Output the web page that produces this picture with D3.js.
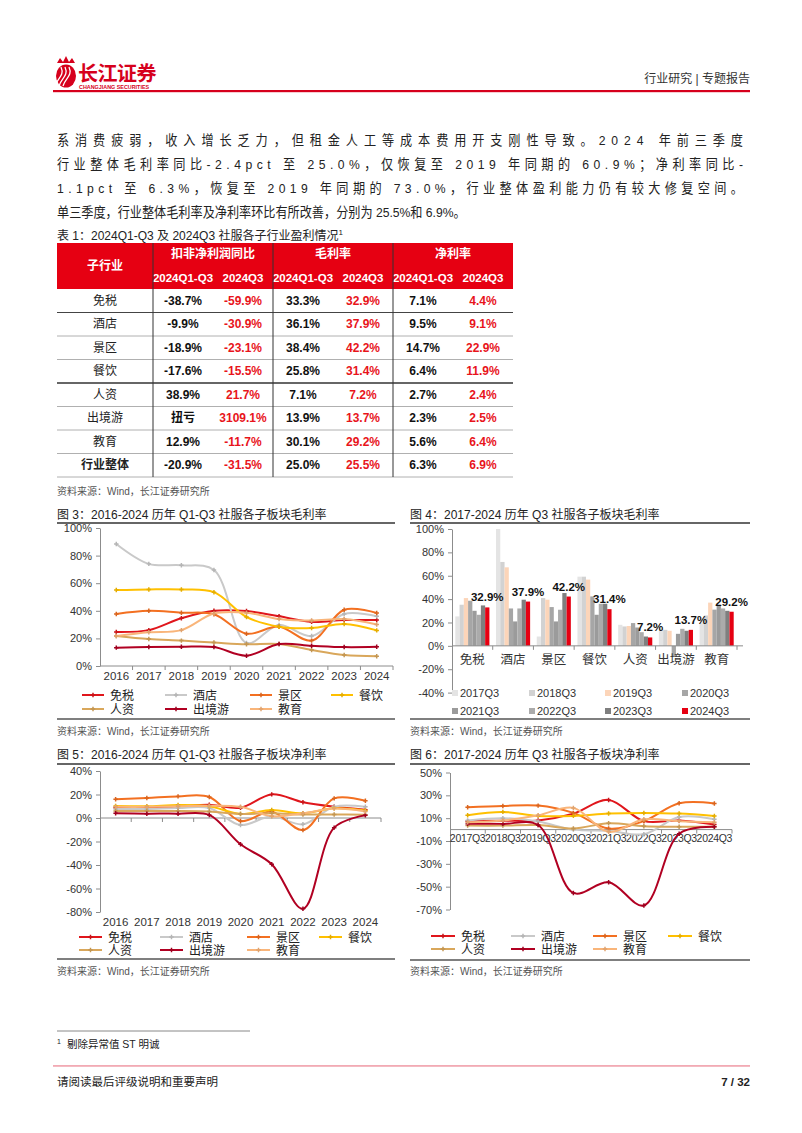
<!DOCTYPE html>
<html><head><meta charset="utf-8">
<script src="https://cdn.jsdelivr.net/npm/d3@7"></script>
<style>body{margin:0;background:#fff}svg{display:block}text{font-family:"Liberation Sans","Noto Sans CJK SC",sans-serif}</style>
</head><body><svg id="page" width="802" height="1133"></svg>
<script>
// ---------------- DATA ----------------
const sectors = ["免税","酒店","景区","餐饮","人资","出境游","教育"];
const tableRows = ["免税","酒店","景区","餐饮","人资","出境游","教育","行业整体"];
const tblGroups = ["扣非净利润同比","毛利率","净利率"];
const tblSubHeads = ["2024Q1-Q3","2024Q3"];
const tblProfitYoY9M = ["-38.7%","-9.9%","-18.9%","-17.6%","38.9%","扭亏","12.9%","-20.9%"];
const tblProfitYoYQ3 = ["-59.9%","-30.9%","-23.1%","-15.5%","21.7%","3109.1%","-11.7%","-31.5%"];
const tblGross9M = ["33.3%","36.1%","38.4%","25.8%","7.1%","13.9%","30.1%","25.0%"];
const tblGrossQ3 = ["32.9%","37.9%","42.2%","31.4%","7.2%","13.7%","29.2%","25.5%"];
const tblNet9M = ["7.1%","9.5%","14.7%","6.4%","2.7%","2.3%","5.6%","6.3%"];
const tblNetQ3 = ["4.4%","9.1%","22.9%","11.9%","2.4%","2.5%","6.4%","6.9%"];

const years = ["2016","2017","2018","2019","2020","2021","2022","2023","2024"];
const quarters = ["2017Q3","2018Q3","2019Q3","2020Q3","2021Q3","2022Q3","2023Q3","2024Q3"];

// Fig 3: Q1-Q3 gross margin (%)
const gm9mDutyFree = [24.6,26,34.6,40,39.8,36,32,33.3,33.3];
const gm9mHotel    = [88.4,74,73,69.6,16.7,29.7,21.7,37.7,36.1];
const gm9mScenic   = [37.7,40,38.6,37.5,23.4,28.5,18.4,40.8,38.4];
const gm9mCatering = [55,55.5,55.5,53.5,35.5,28.5,27.5,30.4,25.8];
const gm9mHR       = [21.7,19.5,18.4,17,15.7,15.9,11.6,8,7.1];
const gm9mOutbound = [13.3,13.7,13.9,13.7,7.5,15.9,14.7,13.7,13.9];
const gm9mEdu      = [21.7,24.4,26,38,38.6,34,32.9,34,30.1];

// Fig 4: Q3 gross margin (%) by year, across sectors
const q3gm2017 = [25.2,100,8,59.2,18,14.3,20];
const q3gm2018 = [35.2,71.8,40.9,59.2,16.6,13.7,26];
const q3gm2019 = [40.9,67.2,39.5,56.7,17,12.9,37];
const q3gm2020 = [38.6,32,33.2,42.3,19.5,-9,31];
const q3gm2021 = [30,20.9,20.9,26.6,15.7,10.3,35];
const q3gm2022 = [26.6,32,30.9,36,11.7,14.6,32];
const q3gm2023 = [34.6,39.5,45.2,36,8,12.9,30];
const q3gm2024 = [32.9,37.9,42.2,31.4,7.2,13.7,29.2];

// Fig 5: Q1-Q3 net margin (%)
const nm9mDutyFree = [8.8,8.8,9.6,11.3,8.8,20.1,13.4,9.6,7.1];
const nm9mHotel    = [7.7,7.7,8.5,8.5,-6,1.5,-5.4,9.6,9.5];
const nm9mScenic   = [15.9,17,18.4,17.9,-2.6,5.4,-10.2,16.7,14.7];
const nm9mCatering = [10.2,10,11,10,3.4,6.8,4,8.2,6.4];
const nm9mHR       = [6,6,6,5.5,3.5,4,3,3,2.7];
const nm9mOutbound = [4,3.7,3.7,2.6,-22.4,-39.4,-77.2,-8.2,2.3];
const nm9mEdu      = [9.5,9.5,10,10.5,9.5,1.5,4,8,5.6];

// Fig 6: Q3 net margin (%)
const nmQ3DutyFree = [7.4,7.8,8,14,26,7.4,8,4.4];
const nmQ3Hotel    = [8,10,7,0,-1,-4,11,9.1];
const nmQ3Scenic   = [19.6,20.7,21,14.6,1,7.4,23,22.9];
const nmQ3Catering = [12.6,15.5,12,12,14,14.6,14,11.9];
const nmQ3HR       = [3.5,3.5,4,1,5.5,3,2.5,2.4];
const nmQ3Outbound = [5,5,4,-55.5,-46.2,-66.5,-3.6,2.5];
const nmQ3Edu      = [6.5,8,12.5,19,-2,9,7.4,6.4];

const gmTicks = [0,20,40,60,80,100];
const barTicks = [-40,-20,0,20,40,60,80,100];
const nm9mTicks = [-80,-60,-40,-20,0,20,40];
const nmQ3Ticks = [-70,-50,-30,-10,10,30,50];

const lineColors = ["#e0161c","#c9c9c9","#f37021","#ffc000","#d9a75b","#b10022","#f9b57a"];
const barColors = ["#e4e4e4","#d2d2d2","#fcd5b9","#a6a6a6","#9b9b9b","#ababab","#7f7f7f","#e60012"];

// ---------------- DRAW ----------------
const svg = d3.select("#page");
svg.append("rect").attr("width",802).attr("height",1133).attr("fill","#fff");
const RED = "#e60012";

// header logo
const logo = svg.append("g");
logo.append("ellipse").attr("cx",66).attr("cy",76).attr("rx",10).attr("ry",11.5).attr("fill","#d6001c");
[-5,-1,3].forEach(o=>{
  logo.append("path").attr("d",`M${60+o},${86} C${62+o},${78} ${70+o},${76} ${66+o},${67}`)
    .attr("fill","none").attr("stroke","#fff").attr("stroke-width",1.3);
});
logo.append("path").attr("d","M57,63 L60,58 L63,62 L66,56 L69,62 L72,58 L75,63 Z").attr("fill","#d6001c");
logo.append("text").attr("x",78).attr("y",81).attr("font-size",20).attr("font-weight","bold")
  .attr("fill","#d6001c").attr("letter-spacing",-0.5).text("长江证券");
logo.append("text").attr("x",79).attr("y",89).attr("font-size",5.4).attr("font-weight","bold")
  .attr("fill","#d6001c").text("CHANGJIANG SECURITIES");
svg.append("text").attr("x",750).attr("y",83).attr("text-anchor","end").attr("font-size",12)
  .attr("fill","#333").text("行业研究 | 专题报告");
svg.append("rect").attr("x",53).attr("y",90).attr("width",697).attr("height",2.2).attr("fill","#d6001c");

// body text (condensed glyphs, justified lines)
const bodyLines = [
  "系消费疲弱，收入增长乏力，但租金人工等成本费用开支刚性导致。2024 年前三季度",
  "行业整体毛利率同比-2.4pct 至 25.0%，仅恢复至 2019 年同期的 60.9%；净利率同比-",
  "1.1pct 至 6.3%，恢复至 2019 年同期的 73.0%，行业整体盈利能力仍有较大修复空间。",
  "单三季度，行业整体毛利率及净利率环比有所改善，分别为 25.5%和 6.9%。"
];
const sx = 0.9;
bodyLines.forEach((t,i)=>{
  const el = svg.append("text").attr("transform",`translate(57,${145+i*24}) scale(${sx},1)`)
    .attr("font-size",13.5).attr("fill","#222").text(t);
  if(i<3) el.attr("textLength",686/sx).attr("lengthAdjust","spacing");
});

// table title
const tt = svg.append("text").attr("x",57).attr("y",240).attr("font-size",12).attr("fill","#222");
tt.append("tspan").text("表 1：2024Q1-Q3 及 2024Q3 社服各子行业盈利情况");
tt.append("tspan").attr("font-size",8).attr("dy",-5).text("1");

// table
const tX0 = 57, tX1 = 513, hTop = 243, hMid = 266, hBot = 289, rowH = 23.5;
const colEdges = [tX0,153,273,393,tX1];
const subCenters = [183,243,303,363,423,483];
svg.append("rect").attr("x",tX0).attr("y",hTop).attr("width",tX1-tX0).attr("height",hBot-hTop).attr("fill",RED);
svg.append("text").attr("x",105).attr("y",270).attr("text-anchor","middle").attr("font-size",12)
  .attr("font-weight","bold").attr("fill","#fff").text("子行业");
tblGroups.forEach((gname,i)=>{
  svg.append("text").attr("x",(colEdges[i+1]+colEdges[i+2])/2).attr("y",258).attr("text-anchor","middle")
    .attr("font-size",12).attr("font-weight","bold").attr("fill","#fff").text(gname);
  tblSubHeads.forEach((s,j)=>{
    svg.append("text").attr("x",subCenters[i*2+j]).attr("y",281.5).attr("text-anchor","middle")
      .attr("font-size",11.5).attr("font-weight","bold").attr("fill","#fff").text(s);
  });
});
const tblCols = [tblProfitYoY9M,tblProfitYoYQ3,tblGross9M,tblGrossQ3,tblNet9M,tblNetQ3];
tableRows.forEach((r,i)=>{
  const cy = hBot + rowH*(i+0.5) + 4;
  const last = i===tableRows.length-1;
  svg.append("text").attr("x",105).attr("y",cy).attr("text-anchor","middle").attr("font-size",12)
    .attr("font-weight",last?"bold":"normal").attr("fill","#222").text(r);
  tblCols.forEach((col,j)=>{
    svg.append("text").attr("x",subCenters[j]).attr("y",cy).attr("text-anchor","middle").attr("font-size",12)
      .attr("font-weight","bold").attr("fill",j%2===1?"#e8141b":"#111").text(col[i]);
  });
  const ly = hBot + rowH*(i+1);
  let stroke="#b0b0b0", sw=1;
  if(i===0){stroke="#444";}
  if(i===3){stroke="#666";sw=2;}
  svg.append("line").attr("x1",tX0).attr("x2",tX1).attr("y1",ly).attr("y2",ly).attr("stroke",stroke).attr("stroke-width",sw);
});
[153,273,393].forEach(xv=>{
  svg.append("line").attr("x1",xv).attr("x2",xv).attr("y1",hTop).attr("y2",hBot+rowH*8)
    .attr("stroke","#333").attr("stroke-width",1);
});

function source(x,y){
  svg.append("text").attr("x",x).attr("y",y).attr("font-size",10).attr("fill","#555").text("资料来源：Wind，长江证券研究所");
}
source(57,495);

function titleBlock(x0,x1,yT,yLine,yBot,text){
  svg.append("text").attr("x",x0).attr("y",yT).attr("font-size",12).attr("fill","#222").text(text);
  svg.append("line").attr("x1",x0).attr("x2",x1).attr("y1",yLine).attr("y2",yLine).attr("stroke","#333").attr("stroke-width",1.3);
  svg.append("line").attr("x1",x0).attr("x2",x1).attr("y1",yBot).attr("y2",yBot).attr("stroke","#555").attr("stroke-width",1.3);
}

function styleAxis(sel){
  sel.selectAll("path.domain").attr("stroke","#8c8c8c");
  sel.selectAll(".tick line").attr("stroke","#8c8c8c");
  sel.selectAll(".tick text").attr("fill","#333").attr("font-size",11)
    .attr("font-family",'"Liberation Sans","Noto Sans CJK SC",sans-serif');
}

function lineChart(cfg){
  const g = svg.append("g");
  const xb = d3.scaleBand().domain(cfg.cats).range(cfg.xr);
  const x = d => xb(d) + xb.bandwidth()/2;
  const y = d3.scaleLinear().domain(cfg.yd).range(cfg.yr);
  const ya = g.append("g").attr("transform",`translate(${cfg.xr[0]},0)`)
    .call(d3.axisLeft(y).tickValues(cfg.yticks).tickFormat(d=>d+"%").tickSize(4).tickSizeOuter(0).tickPadding(4));
  styleAxis(ya);
  const xl = g.append("g").attr("transform",`translate(0,${cfg.xLabelY})`)
    .call(d3.axisBottom(xb).tickSize(0).tickPadding(0));
  xl.select("path.domain").remove();
  styleAxis(xl);
  xl.selectAll(".tick text").attr("font-size",cfg.xFont||11.5).attr("letter-spacing",cfg.xLS||0);
  const y0 = y(0);
  g.append("line").attr("x1",cfg.xr[0]).attr("x2",cfg.xr[1]).attr("y1",y0).attr("y2",y0).attr("stroke","#8c8c8c");
  const edges = cfg.cats.map(c=>xb(c)).concat([cfg.xr[1]]);
  g.selectAll(".xt").data(edges.slice(1)).enter().append("line")
    .attr("x1",d=>d).attr("x2",d=>d).attr("y1",y0).attr("y2",y0+4).attr("stroke","#8c8c8c");
  const line = d3.line().x((d,i)=>x(cfg.cats[i])).y(d=>y(d)).curve(d3.curveCatmullRom.alpha(0.5));
  cfg.series.forEach((s,k)=>{
    g.append("path").attr("d",line(s)).attr("fill","none").attr("stroke",lineColors[k]).attr("stroke-width",2);
    g.selectAll(null).data(s).enter().append("path")
      .attr("transform",(d,i)=>`translate(${x(cfg.cats[i])},${y(d)})`)
      .attr("d",d3.symbol(d3.symbolCross,11)).attr("fill",d3.color(lineColors[k]).darker(0.3));
  });
  sectors.forEach((name,k)=>{
    const lx = cfg.legX[k%4], ly = cfg.legY[Math.floor(k/4)];
    g.append("line").attr("x1",lx).attr("x2",lx+cfg.legLen).attr("y1",ly).attr("y2",ly)
      .attr("stroke",lineColors[k]).attr("stroke-width",2);
    g.append("path").attr("transform",`translate(${lx+cfg.legLen/2},${ly})`)
      .attr("d",d3.symbol(d3.symbolCross,11)).attr("fill",d3.color(lineColors[k]).darker(0.3));
    g.append("text").attr("x",lx+cfg.legLen+6).attr("y",ly+4.5).attr("font-size",12).attr("fill","#222").text(name);
  });
}

// Figure 3
titleBlock(57,395,519,523,719,"图 3：2016-2024 历年 Q1-Q3 社服各子板块毛利率");
lineChart({cats:years,xr:[100,393],yd:[0,100],yr:[666,528],yticks:gmTicks,xLabelY:672,
  series:[gm9mDutyFree,gm9mHotel,gm9mScenic,gm9mCatering,gm9mHR,gm9mOutbound,gm9mEdu],
  legX:[82,165,250,331],legY:[695,709],legLen:22});
source(57,735);

// Figure 4
titleBlock(410,750,519,523,719,"图 4：2017-2024 历年 Q3 社服各子板块毛利率");
(function(){
  const g = svg.append("g");
  const x0 = d3.scaleBand().domain(sectors).range([452,737]);
  const barSeries = [q3gm2017,q3gm2018,q3gm2019,q3gm2020,q3gm2021,q3gm2022,q3gm2023,q3gm2024];
  const x1 = d3.scaleBand().domain(quarters).range([3.3,x0.bandwidth()-3.3]);
  const y = d3.scaleLinear().domain([-40,100]).range([692.6,529]);
  const ya = g.append("g").attr("transform","translate(452,0)")
    .call(d3.axisLeft(y).tickValues(barTicks).tickFormat(d=>d+"%").tickSize(4).tickSizeOuter(0).tickPadding(4));
  styleAxis(ya);
  barSeries.forEach((vals,k)=>{
    g.selectAll(null).data(vals).enter().append("rect")
      .attr("x",(d,i)=>x0(sectors[i])+x1(quarters[k]))
      .attr("width",x1.bandwidth())
      .attr("y",d=>Math.min(y(d),y(0)))
      .attr("height",d=>Math.abs(y(d)-y(0)))
      .attr("fill",barColors[k]);
  });
  const y0=y(0);
  g.append("line").attr("x1",452).attr("x2",743).attr("y1",y0).attr("y2",y0).attr("stroke","#8c8c8c");
  sectors.slice(1).concat(["end"]).forEach((s)=>{
    const xe = s==="end"?737:x0(s);
    g.append("line").attr("x1",xe).attr("x2",xe).attr("y1",y0).attr("y2",y0+4).attr("stroke","#8c8c8c");
  });
  const xl = g.append("g").attr("transform",`translate(0,${y0+9})`).call(d3.axisBottom(x0).tickSize(0).tickPadding(0));
  xl.select("path.domain").remove(); styleAxis(xl);
  xl.selectAll(".tick text").attr("font-size",12.5);
  g.selectAll(null).data(q3gm2024).enter().append("text")
    .attr("x",(d,i)=>x0(sectors[i])+x1("2024Q3")+x1.bandwidth()/2)
    .attr("y",d=>y(d)-6).attr("text-anchor","middle").attr("font-size",11.5).attr("font-weight","bold")
    .attr("fill","#111").text(d=>d.toFixed(1)+"%");
  const legX=[452,529,605,682], legY=[693,711];
  quarters.forEach((q,k)=>{
    const lx=legX[k%4], ly=legY[Math.floor(k/4)];
    g.append("rect").attr("x",lx).attr("y",ly-3).attr("width",6).attr("height",6).attr("fill",barColors[k]);
    g.append("text").attr("x",lx+8).attr("y",ly+4).attr("font-size",11).attr("fill","#333").text(q);
  });
})();
source(410,735);

// Figure 5
titleBlock(57,395,759,764,959,"图 5：2016-2024 历年 Q1-Q3 社服各子板块净利率");
lineChart({cats:years,xr:[100,381],yd:[-80,40],yr:[912,771],yticks:nm9mTicks,xLabelY:918,
  series:[nm9mDutyFree,nm9mHotel,nm9mScenic,nm9mCatering,nm9mHR,nm9mOutbound,nm9mEdu],
  legX:[79,160,247,319],legY:[937,950],legLen:23});
source(57,975);

// Figure 6
titleBlock(410,750,759,764,960,"图 6：2017-2024 历年 Q3 社服各子板块净利率");
lineChart({cats:quarters,xr:[450,732],yd:[-70,50],yr:[909.5,772.5],yticks:nmQ3Ticks,xLabelY:835,xFont:10.5,xLS:-0.3,
  series:[nmQ3DutyFree,nmQ3Hotel,nmQ3Scenic,nmQ3Catering,nmQ3HR,nmQ3Outbound,nmQ3Edu],
  legX:[431,511,593,668],legY:[936,949],legLen:24});
source(410,975);

// footnote & footer
svg.append("line").attr("x1",57).attr("x2",250).attr("y1",1031).attr("y2",1031).attr("stroke","#888");
const fn = svg.append("text").attr("x",57).attr("y",1048).attr("font-size",10.5).attr("fill","#222");
fn.append("tspan").attr("font-size",7).attr("dy",-4).text("1");
fn.append("tspan").attr("dy",4).attr("dx",6).text("剔除异常值 ST 明诚");
svg.append("rect").attr("x",53).attr("y",1065).attr("width",697).attr("height",1.8).attr("fill","#f2aab4");
svg.append("text").attr("x",57).attr("y",1086).attr("font-size",11.5).attr("fill","#222").text("请阅读最后评级说明和重要声明");
svg.append("text").attr("x",750).attr("y",1086).attr("text-anchor","end").attr("font-size",11.5)
  .attr("font-weight","bold").attr("fill","#222").text("7 / 32");
</script></body></html>
